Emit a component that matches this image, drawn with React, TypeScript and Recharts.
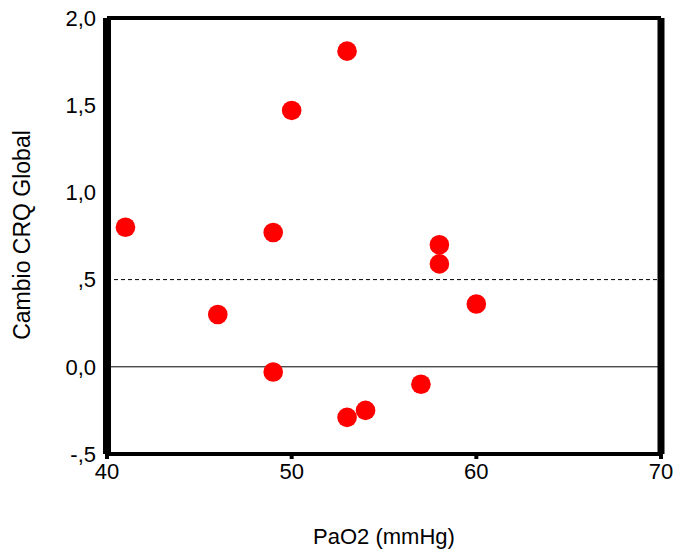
import {
  ScatterChart,
  Scatter,
  XAxis,
  YAxis,
  ReferenceLine,
  Label,
} from "recharts";

const PAO2 = [41, 46, 49, 49, 50, 53, 53, 54, 57, 58, 58, 60];
const CAMBIO_CRQ = [0.8, 0.3, 0.77, -0.03, 1.47, 1.81, -0.29, -0.25, -0.1, 0.7, 0.59, 0.36];
const X_TICKS = [40, 50, 60, 70];
const Y_TICKS = [-0.5, 0, 0.5, 1, 1.5, 2];

const FONT = "'Liberation Sans', Arial, sans-serif";

// SPSS-style labels: decimal comma, no leading zero ("-,5", ",5")
function fmtY(v: number) {
  if (v === 0) return "0,0";
  const s = v.toFixed(1).replace(".", ",");
  return Math.abs(v) < 1 ? s.replace("0,", ",") : s;
}

const points = PAO2.map((x, i) => ({ x, y: CAMBIO_CRQ[i] }));

function Dot(props: any) {
  const { cx, cy } = props;
  if (cx == null || cy == null) return null;
  return <circle cx={cx} cy={cy} r={9.8} fill="#ff0000" />;
}

export default function App() {
  return (
    <div style={{ position: "absolute", left: 0, top: 0, fontFamily: FONT }}>
      <ScatterChart width={679} height={554} margin={{ top: 18, right: 18, bottom: 0, left: 0 }}>
        <XAxis
          dataKey="x"
          type="number"
          domain={[40, 70]}
          ticks={X_TICKS}
          height={100}
          tick={{ fontSize: 22, fill: "#000", fontFamily: FONT }}
          tickSize={5}
          tickMargin={4}
          tickLine={{ stroke: "#000", strokeWidth: 4 }}
          axisLine={{ stroke: "#000", strokeWidth: 4 }}
        >
          <Label
            value="PaO2 (mmHg)"
            position="insideBottom"
            offset={10}
            style={{ fontSize: 22, fill: "#000", fontFamily: FONT }}
          />
        </XAxis>
        <YAxis
          dataKey="y"
          type="number"
          domain={[-0.5, 2]}
          ticks={Y_TICKS}
          tickFormatter={fmtY}
          width={107}
          tick={{ fontSize: 22, fill: "#000", fontFamily: FONT }}
          tickSize={6}
          tickMargin={5}
          tickLine={false}
          axisLine={{ stroke: "#000", strokeWidth: 8 }}
        >
          <Label
            content={() => (
              <text
                transform="translate(30, 235) rotate(-90)"
                textAnchor="middle"
                fontSize={23}
                fontFamily={FONT}
                fill="#000"
              >
                Cambio CRQ Global
              </text>
            )}
          />
        </YAxis>
        <ReferenceLine y={0} stroke="#000" strokeWidth={1} />
        <ReferenceLine y={0.5} stroke="#000" strokeWidth={1} strokeDasharray="4 3" />
        {/* frame: thick sides, thinner top/bottom */}
        <ReferenceLine y={2} stroke="#000" strokeWidth={4} />
        <ReferenceLine y={-0.5} stroke="#000" strokeWidth={4} />
        <ReferenceLine x={70} stroke="#000" strokeWidth={7} />
        <ReferenceLine x={40} stroke="#000" strokeWidth={8} />
        <Scatter data={points} shape={Dot} isAnimationActive={false} />
      </ScatterChart>
    </div>
  );
}
